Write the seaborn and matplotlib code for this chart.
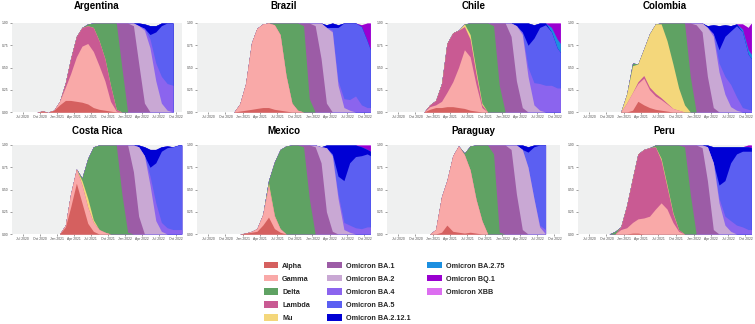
import numpy as np
import pandas as pd
import matplotlib
matplotlib.use("Agg")
import matplotlib.pyplot as plt
import matplotlib.dates as mdates
from matplotlib.patches import Patch
import seaborn as sns

# ---------------- data ----------------
# monthly samples (mid-month, May 2020 .. Oct 2022) plus a final sample on 1 Nov 2022
DATES = list(pd.date_range("2020-05-01", periods=30, freq="MS") + pd.Timedelta(days=14)) + [pd.Timestamp("2022-11-01")]

VARIANTS = ["Alpha", "Gamma", "Delta", "Lambda", "Mu",
            "Omicron BA.1", "Omicron BA.2", "Omicron BA.4", "Omicron BA.5", "Omicron BA.2.12.1",
            "Omicron BA.2.75", "Omicron BQ.1", "Omicron XBB"]
STACK_ORDER = ["Alpha", "Gamma", "Lambda", "Mu", "Delta",
               "Omicron BA.1", "Omicron BA.2", "Omicron BA.4", "Omicron BA.5", "Omicron BA.2.12.1",
               "Omicron BA.2.75", "Omicron BQ.1", "Omicron XBB"]
COLORS = ["#d5605f", "#f9a9a8", "#5fa263", "#c95a93", "#f4d77b",
          "#9c5ca6", "#c9a8d4", "#8b64ee", "#5b5ff2", "#0000d4",
          "#1b8fe0", "#9a00d0", "#dc6ef0"]
COUNTRIES = ["Argentina", "Brazil", "Chile", "Colombia", "Costa Rica", "Mexico", "Paraguay", "Peru"]

#            M  J  J  A  S  O    N  D    J    F    M    A    M    J    J    A    S    O    N    D    J    F    M    A    M    J    J    A    S    O    N1
ARG_ALPHA = [0, 0, 0, 0, 0, .01, 0, .02, .08, .13, .13, .12, .11, .09, .05, .03, .02, .01, 0, 0, 0, 0, 0, 0, 0, 0, 0, 0, 0]
ARG_GAMMA = [0, 0, 0, 0, 0, 0, 0, 0, .04, .15, .30, .50, .63, .68, .63, .49, .33, .11, .01, 0, 0, 0, 0, 0, 0, 0, 0, 0, 0]
ARG_LAMBDA = [0, 0, 0, 0, 0, 0, 0, 0, 0, .05, .17, .23, .21, .20, .27, .28, .25, .18, .02, 0, 0, 0, 0, 0, 0, 0, 0, 0, 0]
ARG_DELTA = [0, 0, 0, 0, 0, 0, 0, 0, 0, 0, 0, 0, 0, .02, .05, .20, .40, .70, .97, .50, 0, 0, 0, 0, 0, 0, 0, 0, 0]
ARG_BA1 = [0, 0, 0, 0, 0, 0, 0, 0, 0, 0, 0, 0, 0, 0, 0, 0, 0, 0, 0, .50, 1.0, .97, .55, .10, 0, 0, 0, 0, 0]
ARG_BA2 = [0, 0, 0, 0, 0, 0, 0, 0, 0, 0, 0, 0, 0, 0, 0, 0, 0, 0, 0, 0, 0, .03, .42, .82, .72, .35, .10, .02, 0]
ARG_BA4 = [0, 0, 0, 0, 0, 0, 0, 0, 0, 0, 0, 0, 0, 0, 0, 0, 0, 0, 0, 0, 0, 0, 0, .02, .10, .20, .30, .30, .30]
ARG_BA5 = [0, 0, 0, 0, 0, 0, 0, 0, 0, 0, 0, 0, 0, 0, 0, 0, 0, 0, 0, 0, 0, 0, 0, 0, .05, .35, .57, .68, .70]
ARG_BA2121 = [0, 0, 0, 0, 0, 0, 0, 0, 0, 0, 0, 0, 0, 0, 0, 0, 0, 0, 0, 0, 0, 0, .03, .05, .10, .07, .03, 0, 0]

BRA_ALPHA = [0, 0, 0, 0, 0, 0, 0, .01, .02, .03, .04, .05, .05, .03, .02, .01, 0, 0, 0, 0, 0, 0, 0, 0, 0, 0, 0, 0, 0, 0, 0]
BRA_GAMMA = [0, 0, 0, 0, 0, 0, 0, .08, .30, .75, .90, .94, .95, .95, .85, .40, .10, .02, 0, 0, 0, 0, 0, 0, 0, 0, 0, 0, 0, 0, 0]
BRA_DELTA = [0, 0, 0, 0, 0, 0, 0, 0, 0, 0, 0, 0, 0, .02, .13, .59, .90, .98, .97, .15, 0, 0, 0, 0, 0, 0, 0, 0, 0, 0, 0]
BRA_BA1 = [0, 0, 0, 0, 0, 0, 0, 0, 0, 0, 0, 0, 0, 0, 0, 0, 0, 0, .03, .85, .97, .60, .10, 0, 0, 0, 0, 0, 0, 0, 0]
BRA_BA2 = [0, 0, 0, 0, 0, 0, 0, 0, 0, 0, 0, 0, 0, 0, 0, 0, 0, 0, 0, 0, .03, .40, .85, .90, .30, .05, .02, 0, 0, 0, 0]
BRA_BA4 = [0, 0, 0, 0, 0, 0, 0, 0, 0, 0, 0, 0, 0, 0, 0, 0, 0, 0, 0, 0, 0, 0, 0, .02, .05, .10, .12, .18, .08, .05, .05]
BRA_BA5 = [0, 0, 0, 0, 0, 0, 0, 0, 0, 0, 0, 0, 0, 0, 0, 0, 0, 0, 0, 0, 0, 0, 0, .03, .60, .85, .86, .82, .88, .75, .65]
BRA_BA2121 = [0, 0, 0, 0, 0, 0, 0, 0, 0, 0, 0, 0, 0, 0, 0, 0, 0, 0, 0, 0, 0, 0, .03, .05, .03, 0, 0, 0, 0, 0, 0]
BRA_BQ1 = [0, 0, 0, 0, 0, 0, 0, 0, 0, 0, 0, 0, 0, 0, 0, 0, 0, 0, 0, 0, 0, 0, 0, 0, 0, 0, 0, 0, .02, .20, .30]

CHL_ALPHA = [0, 0, 0, 0, 0, 0, 0, .03, .05, .05, .06, .06, .05, .04, .02, .01, 0, 0, 0, 0, 0, 0, 0, 0, 0, 0, 0, 0, 0, 0, 0]
CHL_GAMMA = [0, 0, 0, 0, 0, 0, 0, .03, .03, .07, .16, .28, .45, .66, .60, .30, .05, 0, 0, 0, 0, 0, 0, 0, 0, 0, 0, 0, 0, 0, 0]
CHL_LAMBDA = [0, 0, 0, 0, 0, 0, 0, .02, .05, .20, .55, .55, .42, .26, .20, .12, .03, 0, 0, 0, 0, 0, 0, 0, 0, 0, 0, 0, 0, 0, 0]
CHL_MU = [0, 0, 0, 0, 0, 0, 0, 0, 0, 0, 0, 0, 0, .03, .05, .04, .02, 0, 0, 0, 0, 0, 0, 0, 0, 0, 0, 0, 0, 0, 0]
CHL_DELTA = [0, 0, 0, 0, 0, 0, 0, 0, 0, 0, 0, 0, 0, 0, .13, .53, .90, 1.0, .97, .30, 0, 0, 0, 0, 0, 0, 0, 0, 0, 0, 0]
CHL_BA1 = [0, 0, 0, 0, 0, 0, 0, 0, 0, 0, 0, 0, 0, 0, 0, 0, 0, 0, .03, .70, 1.0, .85, .35, .05, 0, 0, 0, 0, 0, 0, 0]
CHL_BA2 = [0, 0, 0, 0, 0, 0, 0, 0, 0, 0, 0, 0, 0, 0, 0, 0, 0, 0, 0, 0, 0, .15, .62, .82, .40, .08, .02, 0, 0, 0, 0]
CHL_BA4 = [0, 0, 0, 0, 0, 0, 0, 0, 0, 0, 0, 0, 0, 0, 0, 0, 0, 0, 0, 0, 0, 0, 0, .02, .10, .25, .30, .30, .30, .27, .27]
CHL_BA5 = [0, 0, 0, 0, 0, 0, 0, 0, 0, 0, 0, 0, 0, 0, 0, 0, 0, 0, 0, 0, 0, 0, 0, .01, .25, .50, .63, .68, .60, .45, .40]
CHL_BA2121 = [0, 0, 0, 0, 0, 0, 0, 0, 0, 0, 0, 0, 0, 0, 0, 0, 0, 0, 0, 0, 0, 0, .03, .10, .25, .15, .05, .02, 0, 0, 0]
CHL_BA275 = [0, 0, 0, 0, 0, 0, 0, 0, 0, 0, 0, 0, 0, 0, 0, 0, 0, 0, 0, 0, 0, 0, 0, 0, 0, 0, 0, 0, .05, .10, .10]
CHL_BQ1 = [0, 0, 0, 0, 0, 0, 0, 0, 0, 0, 0, 0, 0, 0, 0, 0, 0, 0, 0, 0, 0, 0, 0, 0, 0, 0, 0, 0, .05, .18, .23]

COL_ALPHA = [0, 0, 0, 0, 0, 0, 0, 0, 0, .02, .12, .08, .05, .03, .02, .01, 0, 0, 0, 0, 0, 0, 0, 0, 0, 0, 0, 0, 0, 0, 0]
COL_GAMMA = [0, 0, 0, 0, 0, 0, 0, 0, .10, .20, .20, .30, .20, .15, .12, .08, .04, .02, 0, 0, 0, 0, 0, 0, 0, 0, 0, 0, 0, 0, 0]
COL_LAMBDA = [0, 0, 0, 0, 0, 0, 0, 0, 0, 0, .02, .03, .03, .03, .02, .01, 0, 0, 0, 0, 0, 0, 0, 0, 0, 0, 0, 0, 0, 0, 0]
COL_MU = [0, 0, 0, 0, 0, 0, 0, 0, .10, .30, .20, .30, .60, .78, .83, .70, .50, .25, .08, 0, 0, 0, 0, 0, 0, 0, 0, 0, 0, 0, 0]
COL_DELTA = [0, 0, 0, 0, 0, 0, 0, 0, 0, .03, 0, 0, 0, 0, .01, .20, .46, .73, .92, .40, 0, 0, 0, 0, 0, 0, 0, 0, 0, 0, 0]
COL_BA1 = [0, 0, 0, 0, 0, 0, 0, 0, 0, 0, 0, 0, 0, 0, 0, 0, 0, 0, 0, .60, .98, .90, .40, .05, 0, 0, 0, 0, 0, 0, 0]
COL_BA2 = [0, 0, 0, 0, 0, 0, 0, 0, 0, 0, 0, 0, 0, 0, 0, 0, 0, 0, 0, 0, .02, .10, .55, .80, .45, .20, .06, .02, 0, 0, 0]
COL_BA4 = [0, 0, 0, 0, 0, 0, 0, 0, 0, 0, 0, 0, 0, 0, 0, 0, 0, 0, 0, 0, 0, 0, 0, .03, .10, .20, .25, .15, .05, .03, .02]
COL_BA5 = [0, 0, 0, 0, 0, 0, 0, 0, 0, 0, 0, 0, 0, 0, 0, 0, 0, 0, 0, 0, 0, 0, 0, 0, .15, .45, .60, .80, .85, .62, .58]
COL_BA2121 = [0, 0, 0, 0, 0, 0, 0, 0, 0, 0, 0, 0, 0, 0, 0, 0, 0, 0, 0, 0, 0, 0, .02, .10, .27, .13, .06, .02, 0, 0, 0]
COL_BA275 = [0, 0, 0, 0, 0, 0, 0, 0, 0, 0, 0, 0, 0, 0, 0, 0, 0, 0, 0, 0, 0, 0, 0, 0, 0, 0, 0, 0, .03, .05, .05]
COL_BQ1 = [0, 0, 0, 0, 0, 0, 0, 0, 0, 0, 0, 0, 0, 0, 0, 0, 0, 0, 0, 0, 0, 0, 0, 0, 0, 0, 0, 0, .06, .25, .35]

CRI_ALPHA = [0, 0, 0, 0, 0, 0, 0, 0, 0, .08, .30, .57, .35, .12, .03, 0, 0, 0, 0, 0, 0, 0, 0, 0, 0, 0, 0, 0, 0, 0, 0]
CRI_GAMMA = [0, 0, 0, 0, 0, 0, 0, 0, 0, .02, .15, .16, .20, .18, .10, .05, .02, 0, 0, 0, 0, 0, 0, 0, 0, 0, 0, 0, 0, 0, 0]
CRI_MU = [0, 0, 0, 0, 0, 0, 0, 0, 0, 0, 0, 0, .05, .10, .03, 0, 0, 0, 0, 0, 0, 0, 0, 0, 0, 0, 0, 0, 0, 0, 0]
CRI_DELTA = [0, 0, 0, 0, 0, 0, 0, 0, 0, 0, 0, 0, .03, .45, .82, .95, .98, 1.0, 1.0, .45, .02, 0, 0, 0, 0, 0, 0, 0, 0, 0, 0]
CRI_BA1 = [0, 0, 0, 0, 0, 0, 0, 0, 0, 0, 0, 0, 0, 0, 0, 0, 0, 0, 0, .55, .98, .70, .20, 0, 0, 0, 0, 0, 0, 0, 0]
CRI_BA2 = [0, 0, 0, 0, 0, 0, 0, 0, 0, 0, 0, 0, 0, 0, 0, 0, 0, 0, 0, 0, 0, .30, .78, .88, .55, .15, .03, 0, 0, 0, 0]
CRI_BA4 = [0, 0, 0, 0, 0, 0, 0, 0, 0, 0, 0, 0, 0, 0, 0, 0, 0, 0, 0, 0, 0, 0, 0, 0, .10, .20, .10, .07, .05, .05, .05]
CRI_BA5 = [0, 0, 0, 0, 0, 0, 0, 0, 0, 0, 0, 0, 0, 0, 0, 0, 0, 0, 0, 0, 0, 0, 0, 0, .10, .45, .80, .90, .93, .95, .95]
CRI_BA2121 = [0, 0, 0, 0, 0, 0, 0, 0, 0, 0, 0, 0, 0, 0, 0, 0, 0, 0, 0, 0, 0, 0, .02, .10, .20, .15, .05, .02, 0, 0, 0]

MEX_ALPHA = [0, 0, 0, 0, 0, 0, 0, 0, .01, .02, .03, .10, .19, .06, .02, 0, 0, 0, 0, 0, 0, 0, 0, 0, 0, 0, 0, 0, 0, 0, 0]
MEX_GAMMA = [0, 0, 0, 0, 0, 0, 0, 0, 0, .01, .03, .12, .35, .14, .04, 0, 0, 0, 0, 0, 0, 0, 0, 0, 0, 0, 0, 0, 0, 0, 0]
MEX_MU = [0, 0, 0, 0, 0, 0, 0, 0, 0, 0, 0, 0, .03, .01, 0, 0, 0, 0, 0, 0, 0, 0, 0, 0, 0, 0, 0, 0, 0, 0, 0]
MEX_DELTA = [0, 0, 0, 0, 0, 0, 0, 0, 0, 0, 0, 0, .03, .60, .89, .99, 1.0, 1.0, .98, .40, 0, 0, 0, 0, 0, 0, 0, 0, 0, 0, 0]
MEX_BA1 = [0, 0, 0, 0, 0, 0, 0, 0, 0, 0, 0, 0, 0, 0, 0, 0, 0, 0, .02, .60, .98, .80, .25, .03, 0, 0, 0, 0, 0, 0, 0]
MEX_BA2 = [0, 0, 0, 0, 0, 0, 0, 0, 0, 0, 0, 0, 0, 0, 0, 0, 0, 0, 0, 0, .02, .18, .72, .85, .40, .05, .02, 0, 0, 0, 0]
MEX_BA4 = [0, 0, 0, 0, 0, 0, 0, 0, 0, 0, 0, 0, 0, 0, 0, 0, 0, 0, 0, 0, 0, 0, 0, 0, .05, .08, .08, .07, .06, .08, .08]
MEX_BA5 = [0, 0, 0, 0, 0, 0, 0, 0, 0, 0, 0, 0, 0, 0, 0, 0, 0, 0, 0, 0, 0, 0, 0, .02, .20, .47, .70, .80, .82, .82, .80]
MEX_BA2121 = [0, 0, 0, 0, 0, 0, 0, 0, 0, 0, 0, 0, 0, 0, 0, 0, 0, 0, 0, 0, 0, 0, .03, .10, .35, .40, .20, .13, .10, .05, .05]
MEX_BQ1 = [0, 0, 0, 0, 0, 0, 0, 0, 0, 0, 0, 0, 0, 0, 0, 0, 0, 0, 0, 0, 0, 0, 0, 0, 0, 0, 0, 0, .02, .05, .07]

PRY_ALPHA = [0, 0, 0, 0, 0, 0, 0, 0, 0, .02, .10, .03, .02, .01, .02, .01, 0, 0, 0, 0, 0, 0, 0, 0, 0, 0, 0, 0]
PRY_GAMMA = [0, 0, 0, 0, 0, 0, 0, 0, .05, .40, .50, .85, .97, .88, .70, .38, .15, 0, 0, 0, 0, 0, 0, 0, 0, 0, 0, 0]
PRY_DELTA = [0, 0, 0, 0, 0, 0, 0, 0, 0, 0, 0, 0, 0, .02, .27, .61, .85, 1.0, .90, .02, 0, 0, 0, 0, 0, 0, 0, 0]
PRY_BA1 = [0, 0, 0, 0, 0, 0, 0, 0, 0, 0, 0, 0, 0, 0, 0, 0, 0, 0, .10, .98, 1.0, .95, .45, .05, 0, 0, 0, 0]
PRY_BA2 = [0, 0, 0, 0, 0, 0, 0, 0, 0, 0, 0, 0, 0, 0, 0, 0, 0, 0, 0, 0, 0, .05, .55, .90, .75, .40, .08, 0]
PRY_BA4 = [0, 0, 0, 0, 0, 0, 0, 0, 0, 0, 0, 0, 0, 0, 0, 0, 0, 0, 0, 0, 0, 0, 0, 0, 0, 0, .02, .05]
PRY_BA5 = [0, 0, 0, 0, 0, 0, 0, 0, 0, 0, 0, 0, 0, 0, 0, 0, 0, 0, 0, 0, 0, 0, 0, 0, .17, .58, .90, .95]
PRY_BA2121 = [0, 0, 0, 0, 0, 0, 0, 0, 0, 0, 0, 0, 0, 0, 0, 0, 0, 0, 0, 0, 0, 0, 0, .05, .06, .02, 0, 0]

PER_ALPHA = [0, 0, 0, 0, 0, 0, 0, 0, 0, .01, .01, 0, 0, 0, 0, 0, 0, 0, 0, 0, 0, 0, 0, 0, 0, 0, 0, 0, 0, 0, 0]
PER_GAMMA = [0, 0, 0, 0, 0, 0, 0, .05, .07, .12, .16, .18, .20, .28, .35, .28, .13, .03, 0, 0, 0, 0, 0, 0, 0, 0, 0, 0, 0, 0, 0]
PER_LAMBDA = [0, 0, 0, 0, 0, 0, 0, .03, .25, .50, .73, .77, .77, .70, .48, .25, .10, .02, 0, 0, 0, 0, 0, 0, 0, 0, 0, 0, 0, 0, 0]
PER_MU = [0, 0, 0, 0, 0, 0, 0, 0, 0, 0, 0, 0, 0, 0, .02, .02, .01, 0, 0, 0, 0, 0, 0, 0, 0, 0, 0, 0, 0, 0, 0]
PER_DELTA = [0, 0, 0, 0, 0, 0, .03, 0, 0, 0, 0, 0, 0, .02, .15, .45, .76, .95, .98, .45, 0, 0, 0, 0, 0, 0, 0, 0, 0, 0, 0]
PER_BA1 = [0, 0, 0, 0, 0, 0, 0, 0, 0, 0, 0, 0, 0, 0, 0, 0, 0, 0, .02, .55, 1.0, .97, .60, .05, 0, 0, 0, 0, 0, 0, 0]
PER_BA2 = [0, 0, 0, 0, 0, 0, 0, 0, 0, 0, 0, 0, 0, 0, 0, 0, 0, 0, 0, 0, 0, .03, .38, .75, .35, .10, .03, 0, 0, 0, 0]
PER_BA4 = [0, 0, 0, 0, 0, 0, 0, 0, 0, 0, 0, 0, 0, 0, 0, 0, 0, 0, 0, 0, 0, 0, 0, 0, .05, .10, .12, .10, .08, .05, .05]
PER_BA5 = [0, 0, 0, 0, 0, 0, 0, 0, 0, 0, 0, 0, 0, 0, 0, 0, 0, 0, 0, 0, 0, 0, 0, 0, .15, .40, .65, .80, .85, .88, .88]
PER_BA2121 = [0, 0, 0, 0, 0, 0, 0, 0, 0, 0, 0, 0, 0, 0, 0, 0, 0, 0, 0, 0, 0, 0, .02, .18, .43, .38, .18, .08, .05, .05, .04]
PER_BQ1 = [0, 0, 0, 0, 0, 0, 0, 0, 0, 0, 0, 0, 0, 0, 0, 0, 0, 0, 0, 0, 0, 0, 0, 0, 0, 0, 0, 0, 0, .02, .03]

X_TICKS = ["2020-07-01", "2020-10-01", "2021-01-01", "2021-04-01", "2021-07-01",
           "2021-10-01", "2022-01-01", "2022-04-01", "2022-07-01", "2022-10-01"]
Y_TICKS = [0, 0.25, 0.5, 0.75, 1.0]

SERIES = {
    "Argentina": {"Alpha": ARG_ALPHA, "Gamma": ARG_GAMMA, "Lambda": ARG_LAMBDA, "Delta": ARG_DELTA,
                  "Omicron BA.1": ARG_BA1, "Omicron BA.2": ARG_BA2, "Omicron BA.4": ARG_BA4,
                  "Omicron BA.5": ARG_BA5, "Omicron BA.2.12.1": ARG_BA2121},
    "Brazil": {"Alpha": BRA_ALPHA, "Gamma": BRA_GAMMA, "Delta": BRA_DELTA, "Omicron BA.1": BRA_BA1,
               "Omicron BA.2": BRA_BA2, "Omicron BA.4": BRA_BA4, "Omicron BA.5": BRA_BA5,
               "Omicron BA.2.12.1": BRA_BA2121, "Omicron BQ.1": BRA_BQ1},
    "Chile": {"Alpha": CHL_ALPHA, "Gamma": CHL_GAMMA, "Lambda": CHL_LAMBDA, "Mu": CHL_MU, "Delta": CHL_DELTA,
              "Omicron BA.1": CHL_BA1, "Omicron BA.2": CHL_BA2, "Omicron BA.4": CHL_BA4, "Omicron BA.5": CHL_BA5,
              "Omicron BA.2.12.1": CHL_BA2121, "Omicron BA.2.75": CHL_BA275, "Omicron BQ.1": CHL_BQ1},
    "Colombia": {"Alpha": COL_ALPHA, "Gamma": COL_GAMMA, "Lambda": COL_LAMBDA, "Mu": COL_MU, "Delta": COL_DELTA,
                 "Omicron BA.1": COL_BA1, "Omicron BA.2": COL_BA2, "Omicron BA.4": COL_BA4, "Omicron BA.5": COL_BA5,
                 "Omicron BA.2.12.1": COL_BA2121, "Omicron BA.2.75": COL_BA275, "Omicron BQ.1": COL_BQ1},
    "Costa Rica": {"Alpha": CRI_ALPHA, "Gamma": CRI_GAMMA, "Mu": CRI_MU, "Delta": CRI_DELTA,
                   "Omicron BA.1": CRI_BA1, "Omicron BA.2": CRI_BA2, "Omicron BA.4": CRI_BA4,
                   "Omicron BA.5": CRI_BA5, "Omicron BA.2.12.1": CRI_BA2121},
    "Mexico": {"Alpha": MEX_ALPHA, "Gamma": MEX_GAMMA, "Mu": MEX_MU, "Delta": MEX_DELTA,
               "Omicron BA.1": MEX_BA1, "Omicron BA.2": MEX_BA2, "Omicron BA.4": MEX_BA4,
               "Omicron BA.5": MEX_BA5, "Omicron BA.2.12.1": MEX_BA2121, "Omicron BQ.1": MEX_BQ1},
    "Paraguay": {"Alpha": PRY_ALPHA, "Gamma": PRY_GAMMA, "Delta": PRY_DELTA, "Omicron BA.1": PRY_BA1,
                 "Omicron BA.2": PRY_BA2, "Omicron BA.4": PRY_BA4, "Omicron BA.5": PRY_BA5,
                 "Omicron BA.2.12.1": PRY_BA2121},
    "Peru": {"Alpha": PER_ALPHA, "Gamma": PER_GAMMA, "Lambda": PER_LAMBDA, "Mu": PER_MU, "Delta": PER_DELTA,
             "Omicron BA.1": PER_BA1, "Omicron BA.2": PER_BA2, "Omicron BA.4": PER_BA4, "Omicron BA.5": PER_BA5,
             "Omicron BA.2.12.1": PER_BA2121, "Omicron BQ.1": PER_BQ1},
}

# ---------------- drawing ----------------
sns.set_theme(style="white")
plt.rcParams["font.family"] = ["Liberation Sans", "DejaVu Sans"]

W, H = 755, 324
fig = plt.figure(figsize=(W / 100, H / 100), dpi=100)
fig.patch.set_facecolor("white")

COL_PX = [(11.7, 181.7), (196.7, 370.4), (386.7, 560.4), (577.7, 751.4)]
ROW_PX = [(23, 112), (145, 234)]
TITLE_PAD = [10, 8]
color_of = dict(zip(VARIANTS, COLORS))
n = len(DATES)

for i, country in enumerate(COUNTRIES):
    r, c = divmod(i, 4)
    x0, x1 = COL_PX[c]
    y0, y1 = ROW_PX[r]
    ax = fig.add_axes([x0 / W, 1 - y1 / H, (x1 - x0) / W, (y1 - y0) / H])
    ax.set_facecolor("#eff0f0")
    data = SERIES[country]
    length = len(next(iter(data.values())))
    ys = []
    for v in STACK_ORDER:
        vals = np.full(n, np.nan)
        vals[:length] = data[v] if v in data else 0.0
        ys.append(vals)
    cum = np.cumsum(np.array(ys), axis=0)
    # paint from the top of the stack downwards: each layer covers the ones above it
    for k in range(len(STACK_ORDER) - 1, -1, -1):
        ax.fill_between(DATES, 0, cum[k], color=color_of[STACK_ORDER[k]], linewidth=0)
    ax.set_xlim(pd.Timestamp("2020-05-03"), pd.Timestamp("2022-11-01"))
    ax.set_ylim(0, 1)
    ax.set_xticks([pd.Timestamp(t) for t in X_TICKS])
    ax.xaxis.set_major_formatter(mdates.DateFormatter("%b %Y"))
    ax.set_yticks(Y_TICKS)
    ax.yaxis.set_major_formatter(matplotlib.ticker.FormatStrFormatter("%.2f"))
    ax.tick_params(axis="both", labelsize=2.4, length=1.2, width=0.4, pad=1.0,
                   colors="#555555", labelcolor="#4d4d4d")
    ax.tick_params(left=True, bottom=True)
    for s in ax.spines.values():
        s.set_visible(False)
    ax.grid(False)
    ax.set_title(country, fontsize=7.0, fontweight="bold", pad=TITLE_PAD[r], color="black")

handles = [Patch(facecolor=col, edgecolor="none") for col in COLORS]
labels = list(VARIANTS)
# two empty slots so the three legend columns hold 5, 5 and 3 entries
handles += [Patch(facecolor="none", edgecolor="none"), Patch(facecolor="none", edgecolor="none")]
labels += ["", ""]
fig.legend(handles, labels, ncol=3, loc="center", bbox_to_anchor=(384 / W, 1 - 292 / H),
           frameon=False, prop={"size": 5.2, "weight": "bold"},
           handlelength=2.0, handleheight=1.0, handletextpad=0.55,
           columnspacing=2.4, labelspacing=0.75, borderpad=0)

fig.savefig("out.png", dpi=100)
